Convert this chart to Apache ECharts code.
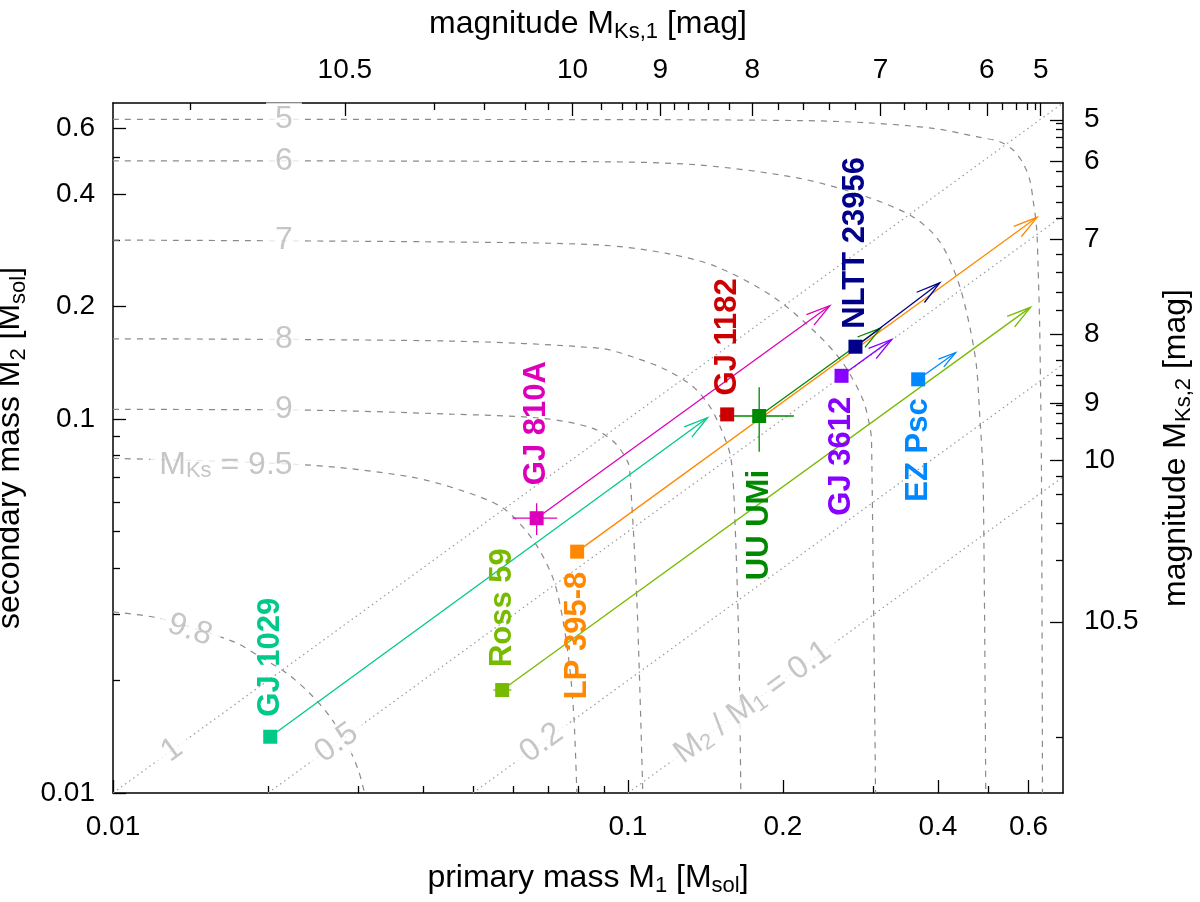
<!DOCTYPE html>
<html>
<head>
<meta charset="utf-8">
<title>Binary masses</title>
<script src="https://cdn.jsdelivr.net/npm/echarts@6.0.0/dist/echarts.min.js"></script>
<style>
  html, body { margin: 0; padding: 0; background: #fff; }
  #chart { width: 1200px; height: 902px; }
</style>
</head>
<body>
<div id="chart"></div>
<script>
const lg = Math.log10;
const fontFamily = '"Liberation Sans", Arial, Helvetica, sans-serif';

// axis range and ticks (solar masses)
const massMin = 0.01;
const massMax = 0.7;
const massTickValues = [0.01, 0.1, 0.2, 0.4, 0.6];
const massTickLabels = ['0.01', '0.1', '0.2', '0.4', '0.6'];
const massMinorTicks = [0.02, 0.03, 0.04, 0.05, 0.06, 0.07, 0.08, 0.09, 0.3, 0.5];

// magnitude ticks, placed at the mass they belong to
const magTickLabels = ['10.5', '10', '9', '8', '7', '6', '5'];
const magTickMassTop = [0.0282, 0.0781, 0.1156, 0.1745, 0.3097, 0.4979, 0.6337];
const magTickMassRight = [0.0287, 0.0774, 0.1105, 0.1687, 0.3033, 0.4891, 0.6314];
const magMinorTickMass = [0.01411, 0.04201, 0.05254, 0.0631, 0.0701, 0.0889, 0.0973, 0.1037, 0.1090,
  0.1230, 0.1310, 0.1434, 0.1575, 0.1955, 0.2189, 0.2462, 0.2765, 0.3441, 0.3795, 0.4198, 0.4595,
  0.5346, 0.5678, 0.5967, 0.6178];

// lines of constant combined magnitude [M1, M2]
const contourMk5 = [[0.01, 0.6328], [0.0882, 0.6321], [0.2158, 0.6282], [0.2907, 0.6198], [0.3915, 0.5989],
  [0.4755, 0.5688], [0.5277, 0.5515], [0.5602, 0.524], [0.5857, 0.4828], [0.6035, 0.4355], [0.6124, 0.385],
  [0.6218, 0.3268], [0.6262, 0.2554], [0.631, 0.1698], [0.6358, 0.0701], [0.6386, 0.01]];
const contourMk6 = [[0.01, 0.4904], [0.0882, 0.4875], [0.1379, 0.4777], [0.2158, 0.4401], [0.2907, 0.393],
  [0.3528, 0.3512], [0.3915, 0.3137], [0.4158, 0.2773], [0.4413, 0.2258], [0.4614, 0.1765], [0.4755, 0.138],
  [0.4825, 0.1014], [0.4897, 0.0701], [0.4955, 0.01]];
const contourMk7 = [[0.01, 0.301], [0.0451, 0.2975], [0.0882, 0.292], [0.1189, 0.2773], [0.1487, 0.2554],
  [0.1915, 0.2123], [0.2325, 0.1695], [0.2619, 0.1409], [0.2863, 0.1124], [0.2951, 0.0954], [0.2973, 0.0879],
  [0.3027, 0.01]];
const contourMk8 = [[0.01, 0.1639], [0.0451, 0.1616], [0.0882, 0.1546], [0.1023, 0.1465], [0.1189, 0.1352],
  [0.1339, 0.122], [0.1443, 0.1079], [0.152, 0.0935], [0.1585, 0.0787], [0.1614, 0.0537], [0.1643, 0.0241],
  [0.1657, 0.01]];
const contourMk9 = [[0.01, 0.1061], [0.02307, 0.1057], [0.0451, 0.1031], [0.0684, 0.1004], [0.0855, 0.0944],
  [0.0944, 0.0863], [0.1, 0.0767], [0.1009, 0.0717], [0.1041, 0.0328], [0.1069, 0.01]];
const contourMk95 = [[0.01, 0.0785], [0.0241, 0.0753], [0.0377, 0.0701], [0.0472, 0.0646], [0.0572, 0.0578],
  [0.0654, 0.0475], [0.0715, 0.0376], [0.0748, 0.029], [0.0772, 0.0213], [0.0786, 0.0157], [0.0796, 0.01]];
const contourMk98 = [[0.01, 0.0305], [0.01234, 0.0293], [0.01713, 0.0254], [0.01929, 0.02315], [0.02175, 0.0209],
  [0.0241, 0.01848], [0.02639, 0.016], [0.02843, 0.01358], [0.02995, 0.01152], [0.0308, 0.01]];

const contourLabelText = ['5', '6', '7', '8', '9', 'M{s|Ks} = 9.5', '9.8'];
const contourLabelM1 = [0.02148, 0.02148, 0.02148, 0.02148, 0.02148, 0.01657, 0.01411];
const contourLabelM2 = [0.6328, 0.4904, 0.301, 0.1639, 0.1061, 0.0753, 0.02729];

// lines of constant mass ratio M2/M1
const ratioValues = [1, 0.5, 0.2, 0.1];
const ratioLabelText = ['1', '0.5', '0.2', 'M{s|2} / M{s|1} = 0.1'];
const ratioLabelM1 = [0.01302, 0.02719, 0.068, 0.1748];
const ratioLabelM2 = [0.01302, 0.0136, 0.0136, 0.01748];

// binaries
const starNames = ['GJ 1029', 'Ross 59', 'LP 395-8', 'GJ 810A', 'GJ 1182', 'UU UMi', 'NLTT 23956', 'GJ 3612', 'EZ Psc'];
const primaryMass = [0.0202, 0.057, 0.0797, 0.0665, 0.1559, 0.1799, 0.2767, 0.26, 0.3663];
const secondaryMass = [0.01414, 0.01885, 0.0442, 0.0543, 0.1029, 0.1019, 0.1561, 0.1305, 0.1277];
const arrowEndM1 = [0.1428, 0.6053, 0.6233, 0.2467, null, 0.3099, 0.4035, 0.3255, 0.4329];
const arrowEndM2 = [0.1008, 0.1989, 0.3462, 0.2009, null, 0.1751, 0.2314, 0.1633, 0.1504];
const errM1Low = [null, 0.0548, null, 0.0597, null, 0.1504, null, null, null];
const errM1High = [null, 0.0594, null, 0.0729, null, 0.2101, null, null, null];
const errM2Low = [null, null, null, 0.049, null, 0.0818, null, null, null];
const errM2High = [null, null, null, 0.0595, null, 0.1216, null, null, null];

// styling per binary
const starColors = ['#00c98a', '#77bb00', '#ff8800', '#dd00bb', '#cc0000', '#008800', '#000088', '#8800ff', '#0088ff'];
const labelSide = ['top', 'top', 'bottom', 'top', 'top', 'bottom', 'top', 'bottom', 'bottom'];
const labelGap = [13, 16, 13, 26, 12, 47, 11, 14, 12];

const contourCurves = [contourMk5, contourMk6, contourMk7, contourMk8, contourMk9, contourMk95, contourMk98];
const contourLabelAngle = [0, 0, 0, 0, 0, 0, -18];
const grey = '#b8b8b8';
const subRich = (size, color) => ({ s: { fontSize: size, lineHeight: 16, verticalAlign: 'bottom', color, fontFamily } });

const axisRange = { min: lg(massMin), max: lg(massMax) };

function pickLabel(masses, labels) {
  return function (v) {
    for (let i = 0; i < masses.length; i++) {
      if (Math.abs(lg(masses[i]) - v) < 1e-6) return labels[i];
    }
    return '';
  };
}

function majorTicks(masses, labels, margin) {
  const values = masses.map(lg);
  return {
    axisLine: { show: true, onZero: false, lineStyle: { color: '#000', width: 1.5 } },
    axisTick: { show: true, inside: true, length: 13, customValues: values, lineStyle: { color: '#000', width: 1.3 } },
    axisLabel: { show: true, customValues: values, formatter: pickLabel(masses, labels), margin, fontSize: 28, color: '#000', fontFamily },
    splitLine: { show: false }
  };
}

function minorTicks(masses) {
  return {
    axisLine: { show: false },
    axisTick: { show: true, inside: true, length: 7, customValues: masses.map(lg), lineStyle: { color: '#000', width: 1.3 } },
    axisLabel: { show: false },
    splitLine: { show: false }
  };
}

const nameStyle = { fontSize: 32, lineHeight: 38, color: '#000', fontFamily, rich: subRich(22, '#000') };

function segment(params, api, withHead) {
  const p0 = api.coord([api.value(0), api.value(1)]);
  const p1 = api.coord([api.value(2), api.value(3)]);
  const color = starColors[api.value(4)];
  const children = [{
    type: 'line',
    shape: { x1: p0[0], y1: p0[1], x2: p1[0], y2: p1[1] },
    style: { stroke: color, lineWidth: 1.3 }
  }];
  if (withHead) {
    const ang = Math.atan2(p1[1] - p0[1], p1[0] - p0[0]);
    const len = Math.hypot(p1[0] - p0[0], p1[1] - p0[1]);
    const head = Math.min(25, len * 0.4);
    const spread = 0.26;
    const b1 = [p1[0] - head * Math.cos(ang - spread), p1[1] - head * Math.sin(ang - spread)];
    const b2 = [p1[0] - head * Math.cos(ang + spread), p1[1] - head * Math.sin(ang + spread)];
    children.push({ type: 'polyline', shape: { points: [b1, p1, b2] }, style: { stroke: color, fill: null, lineWidth: 1.3 } });
  }
  return { type: 'group', children };
}

const arrowData = [];
const errorData = [];
starNames.forEach((n, i) => {
  if (arrowEndM1[i] != null) {
    arrowData.push([lg(primaryMass[i]), lg(secondaryMass[i]), lg(arrowEndM1[i]), lg(arrowEndM2[i]), i]);
  }
  if (errM1Low[i] != null) {
    errorData.push([lg(errM1Low[i]), lg(secondaryMass[i]), lg(errM1High[i]), lg(secondaryMass[i]), i]);
  }
  if (errM2Low[i] != null) {
    errorData.push([lg(primaryMass[i]), lg(errM2Low[i]), lg(primaryMass[i]), lg(errM2High[i]), i]);
  }
});

const series = [];

contourCurves.forEach(curve => {
  series.push({
    type: 'line', xAxisIndex: 0, yAxisIndex: 0, z: 1, silent: true,
    data: curve.map(p => [lg(p[0]), lg(p[1])]),
    showSymbol: false, symbol: 'none', smooth: 0.3,
    lineStyle: { color: '#8a8a8a', width: 1.2, type: [6, 6] }
  });
});

ratioValues.forEach(q => {
  series.push({
    type: 'line', xAxisIndex: 0, yAxisIndex: 0, z: 1, silent: true,
    data: [[lg(massMin / q), lg(massMin)], [lg(massMax), lg(massMax * q)]],
    showSymbol: false, symbol: 'none',
    lineStyle: { color: '#9a9a9a', width: 1.2, type: [1.5, 3.5] }
  });
});

series.push({
  type: 'scatter', xAxisIndex: 0, yAxisIndex: 0, z: 6, silent: true,
  symbolSize: 1, itemStyle: { color: 'rgba(0,0,0,0)' },
  data: contourLabelText.map((t, i) => ({
    value: [lg(contourLabelM1[i]), lg(contourLabelM2[i])],
    label: { formatter: t, rotate: contourLabelAngle[i] }
  })).concat(ratioLabelText.map((t, i) => ({
    value: [lg(ratioLabelM1[i]), lg(ratioLabelM2[i])],
    label: { formatter: t, rotate: 36 }
  }))),
  label: {
    show: true, position: 'inside', color: grey, fontSize: 32, lineHeight: 34, fontFamily,
    backgroundColor: '#fff', padding: [0, 9], rich: subRich(22, grey)
  }
});

series.push({
  type: 'custom', xAxisIndex: 0, yAxisIndex: 0, z: 3, silent: true,
  encode: { x: [0, 2], y: [1, 3] },
  renderItem: (params, api) => segment(params, api, true),
  data: arrowData
});

series.push({
  type: 'custom', xAxisIndex: 0, yAxisIndex: 0, z: 4, silent: true,
  encode: { x: [0, 2], y: [1, 3] },
  renderItem: (params, api) => segment(params, api, false),
  data: errorData
});

series.push({
  type: 'scatter', xAxisIndex: 0, yAxisIndex: 0, z: 5, silent: true,
  symbol: 'rect', symbolSize: 14,
  data: starNames.map((n, i) => ({
    name: n,
    value: [lg(primaryMass[i]), lg(secondaryMass[i])],
    itemStyle: { color: starColors[i], opacity: 1 },
    label: {
      show: true, formatter: '{b}', rotate: 90,
      position: labelSide[i], distance: labelGap[i],
      align: labelSide[i] === 'top' ? 'left' : 'right', verticalAlign: 'middle',
      color: starColors[i], opacity: 1, fontSize: 31, fontWeight: 'bold', fontFamily
    }
  }))
});

const chart = echarts.init(document.getElementById('chart'), null, { renderer: 'canvas' });
chart.setOption({
  animation: false,
  backgroundColor: '#fff',
  textStyle: { fontFamily },
  grid: [
    { left: 113, right: 137, top: 103, bottom: 109, outerBoundsMode: 'none' },
    { left: 113, right: 137, top: 103, bottom: 109, outerBoundsMode: 'none' }
  ],
  xAxis: [
    Object.assign({ type: 'value', gridIndex: 0, position: 'bottom', ...axisRange,
      name: 'primary mass M{s|1} [M{s|sol}]', nameLocation: 'middle', nameGap: 66, nameTextStyle: nameStyle },
      majorTicks(massTickValues, massTickLabels, 20)),
    Object.assign({ type: 'value', gridIndex: 0, position: 'top', ...axisRange,
      name: 'magnitude M{s|Ks,1} [mag]', nameLocation: 'middle', nameGap: 60, nameTextStyle: nameStyle },
      majorTicks(magTickMassTop, magTickLabels, 19)),
    Object.assign({ type: 'value', gridIndex: 1, position: 'bottom', ...axisRange }, minorTicks(massMinorTicks)),
    Object.assign({ type: 'value', gridIndex: 1, position: 'top', ...axisRange }, minorTicks(magMinorTickMass))
  ],
  yAxis: [
    Object.assign({ type: 'value', gridIndex: 0, position: 'left', ...axisRange,
      name: 'secondary mass M{s|2} [M{s|sol}]', nameLocation: 'middle', nameGap: 64, nameRotate: 90, nameTextStyle: nameStyle },
      majorTicks(massTickValues, massTickLabels, 18)),
    Object.assign({ type: 'value', gridIndex: 0, position: 'right', ...axisRange,
      name: 'magnitude M{s|Ks,2} [mag]', nameLocation: 'middle', nameGap: 94, nameRotate: 90, nameTextStyle: nameStyle },
      majorTicks(magTickMassRight, magTickLabels, 21)),
    Object.assign({ type: 'value', gridIndex: 1, position: 'left', ...axisRange }, minorTicks(massMinorTicks)),
    Object.assign({ type: 'value', gridIndex: 1, position: 'right', ...axisRange }, minorTicks(magMinorTickMass))
  ],
  series
});
window.addEventListener('resize', () => chart.resize());
</script>
</body>
</html>
